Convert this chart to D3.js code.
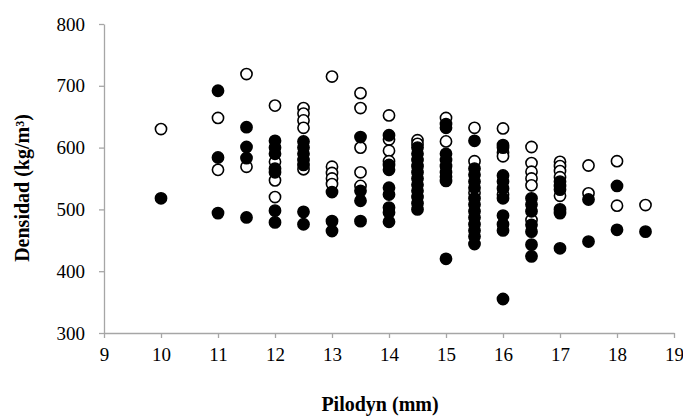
<!DOCTYPE html>
<html>
<head>
<meta charset="utf-8">
<script src="https://cdn.jsdelivr.net/npm/d3@7"></script>
<style>
  body { margin: 0; background: #fff; }
  svg { font-family: "Liberation Serif", "Times New Roman", serif; }
  .axis path, .axis line { stroke: #a6a6a6; stroke-width: 1.3; }
  .axis text { fill: #000; font-size: 19px; font-family: "Liberation Serif", "Times New Roman", serif; }
  .label { font-size: 20px; font-weight: bold; fill: #000; }
</style>
</head>
<body>
<div id="chart"></div>
<script>
// Pilodyn penetration (mm) for each column of points
const pilodyn = [10, 11, 11.5, 12, 12.5, 13, 13.5, 14, 14.5, 15, 15.5, 16, 16.5, 17, 17.5, 18, 18.5];

// open circles, density (kg/m3), one list per pilodyn value
const densidadAbierto = [
  [630],
  [648, 564],
  [719, 569],
  [668, 577, 547, 520],
  [664, 655, 644, 632, 565],
  [715, 569, 559, 550, 541],
  [688, 664, 600, 560, 538],
  [652, 613, 595, 578],
  [612, 606],
  [648, 610],
  [632, 578, 527],
  [631, 592, 586, 524],
  [601, 575, 561, 550, 539, 483],
  [577, 570, 562, 552, 522],
  [571, 526],
  [578, 506],
  [507]
];

// filled circles, density (kg/m3), one list per pilodyn value
const densidadLleno = [
  [518],
  [692, 584, 494],
  [633, 601, 583, 487],
  [611, 600, 590, 566, 560, 498, 479],
  [610, 600, 590, 580, 572, 496, 476],
  [528, 481, 465],
  [617, 530, 514, 481],
  [620, 572, 564, 535, 524, 503, 495, 480],
  [600, 590, 580, 570, 560, 550, 540, 530, 520, 510, 500],
  [638, 632, 590, 580, 570, 560, 553, 546, 420],
  [611, 566, 556, 545, 535, 518, 508, 497, 487, 476, 466, 456, 444],
  [604, 600, 555, 545, 534, 518, 490, 476, 466, 355],
  [518, 508, 497, 475, 464, 443, 424],
  [545, 538, 532, 500, 494, 437],
  [516, 448],
  [538, 467],
  [464]
];

const xTicks = d3.range(9, 20, 1);
const yTicks = d3.range(300, 801, 100);

const w = 683, h = 416;
const margin = { top: 24, right: 9, bottom: 83, left: 104 };

const svg = d3.select('#chart').append('svg')
  .attr('width', w)
  .attr('height', h);

const x = d3.scaleLinear().domain([9, 19]).range([margin.left, w - margin.right]);
const y = d3.scaleLinear().domain([300, 800]).range([h - margin.bottom, margin.top]);

svg.append('g')
  .attr('class', 'axis')
  .attr('transform', `translate(0, ${h - margin.bottom})`)
  .call(d3.axisBottom(x).tickValues(xTicks).tickSize(5).tickSizeOuter(0).tickPadding(10))
  .attr('font-family', null)
  .attr('font-size', null);

svg.append('g')
  .attr('class', 'axis')
  .attr('transform', `translate(${margin.left}, 0)`)
  .call(d3.axisLeft(y).tickValues(yTicks).tickSize(5).tickSizeOuter(0).tickPadding(14))
  .attr('font-family', null)
  .attr('font-size', null);

const toPoints = (lists) => lists.flatMap((vals, i) => vals.map(v => [pilodyn[i], v]));

// open series first, filled series drawn on top
svg.append('g').selectAll('circle')
  .data(toPoints(densidadAbierto))
  .enter().append('circle')
  .attr('cx', d => x(d[0]))
  .attr('cy', d => y(d[1]))
  .attr('r', 5.6)
  .attr('fill', '#fff')
  .attr('stroke', '#000')
  .attr('stroke-width', 1.6);

svg.append('g').selectAll('circle')
  .data(toPoints(densidadLleno))
  .enter().append('circle')
  .attr('cx', d => x(d[0]))
  .attr('cy', d => y(d[1]))
  .attr('r', 5.6)
  .attr('fill', '#000')
  .attr('stroke', '#000')
  .attr('stroke-width', 1.6);

svg.append('text')
  .attr('class', 'label')
  .attr('text-anchor', 'middle')
  .attr('x', 380)
  .attr('y', 411)
  .text('Pilodyn (mm)');

svg.append('text')
  .attr('class', 'label')
  .attr('text-anchor', 'middle')
  .attr('transform', 'translate(29, 188) rotate(-90)')
  .text('Densidad (kg/m\u00B3)');
</script>
</body>
</html>
